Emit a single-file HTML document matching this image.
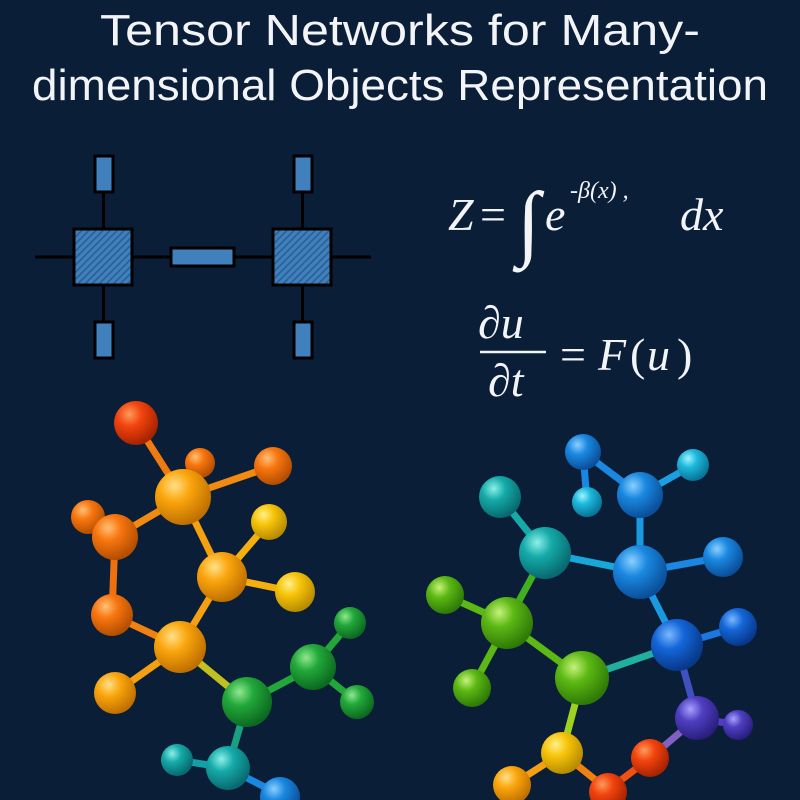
<!DOCTYPE html>
<html><head><meta charset="utf-8"><style>
html,body{margin:0;padding:0;background:#0b1e38;}
svg{display:block}
</style></head><body>
<svg width="800" height="800" viewBox="0 0 800 800" xmlns="http://www.w3.org/2000/svg">
<defs>
<pattern id="hatch" width="5" height="5" patternUnits="userSpaceOnUse" patternTransform="rotate(45)">
<rect width="5" height="5" fill="#3f80bd"/><rect width="1.6" height="5" fill="#2a5f94"/></pattern>
<radialGradient id="gRed" cx="35%" cy="30%" r="70%"><stop offset="0" stop-color="#ff9a5c"/><stop offset=".4" stop-color="#f2440e"/><stop offset="1" stop-color="#a82300"/></radialGradient>
<radialGradient id="gOr" cx="35%" cy="30%" r="70%"><stop offset="0" stop-color="#ffc078"/><stop offset=".4" stop-color="#f8760f"/><stop offset="1" stop-color="#b44e00"/></radialGradient>
<radialGradient id="gAm" cx="35%" cy="30%" r="70%"><stop offset="0" stop-color="#ffe08a"/><stop offset=".4" stop-color="#fba60d"/><stop offset="1" stop-color="#c07000"/></radialGradient>
<radialGradient id="gYe" cx="35%" cy="30%" r="70%"><stop offset="0" stop-color="#fff08a"/><stop offset=".4" stop-color="#f7c40a"/><stop offset="1" stop-color="#b88c00"/></radialGradient>
<radialGradient id="gGr" cx="35%" cy="30%" r="70%"><stop offset="0" stop-color="#8fe88f"/><stop offset=".4" stop-color="#22a83a"/><stop offset="1" stop-color="#0c6a20"/></radialGradient>
<radialGradient id="gLg" cx="35%" cy="30%" r="70%"><stop offset="0" stop-color="#c6f27a"/><stop offset=".4" stop-color="#5cb814"/><stop offset="1" stop-color="#2f7a06"/></radialGradient>
<radialGradient id="gTe" cx="35%" cy="30%" r="70%"><stop offset="0" stop-color="#8cf0e8"/><stop offset=".4" stop-color="#15aaa8"/><stop offset="1" stop-color="#086a70"/></radialGradient>
<radialGradient id="gCy" cx="35%" cy="30%" r="70%"><stop offset="0" stop-color="#a0f4ff"/><stop offset=".4" stop-color="#1cb8dc"/><stop offset="1" stop-color="#0a7498"/></radialGradient>
<radialGradient id="gBl" cx="35%" cy="30%" r="70%"><stop offset="0" stop-color="#8ad0ff"/><stop offset=".4" stop-color="#1a88e0"/><stop offset="1" stop-color="#0a4f9a"/></radialGradient>
<radialGradient id="gDb" cx="35%" cy="30%" r="70%"><stop offset="0" stop-color="#7ab8ff"/><stop offset=".4" stop-color="#1466d8"/><stop offset="1" stop-color="#08388a"/></radialGradient>
<radialGradient id="gPu" cx="35%" cy="30%" r="70%"><stop offset="0" stop-color="#a9a0ff"/><stop offset=".4" stop-color="#4f3fc0"/><stop offset="1" stop-color="#2a1f80"/></radialGradient>
</defs>
<rect width="800" height="800" fill="#0b1e38"/>
<g font-family="Liberation Sans, sans-serif" fill="#f2f4f8" font-size="44">
<text x="100" y="45" textLength="600" lengthAdjust="spacingAndGlyphs">Tensor Networks for Many-</text>
<text x="32" y="100" textLength="736" lengthAdjust="spacingAndGlyphs">dimensional Objects Representation</text>
</g>
<!-- tensor diagram -->
<g stroke="#000" stroke-width="3">
<line x1="35" y1="257" x2="371" y2="257"/>
<line x1="103.5" y1="190" x2="103.5" y2="325"/>
<line x1="302.5" y1="190" x2="302.5" y2="325"/>
<rect x="95" y="156" width="18" height="36" fill="#3f80bd"/>
<rect x="95" y="322" width="18" height="36" fill="#3f80bd"/>
<rect x="294" y="156" width="18" height="36" fill="#3f80bd"/>
<rect x="294" y="322" width="18" height="36" fill="#3f80bd"/>
<rect x="74" y="229" width="58" height="56" fill="url(#hatch)"/>
<rect x="273" y="229" width="58" height="56" fill="url(#hatch)"/>
<rect x="171" y="248" width="63" height="18" fill="#3f80bd"/>
</g>
<!-- equations -->
<g font-family="Liberation Serif, serif" fill="#f2f4f8" font-style="italic">
<text x="448" y="230" font-size="46">Z</text>
<text x="480" y="230" font-size="46" font-style="normal">=</text>
<text x="517" y="250" font-size="84" font-style="normal">∫</text>
<text x="545" y="230" font-size="46">e</text>
<text x="570" y="198" font-size="24">-β(x) ,</text>
<text x="680" y="230" font-size="46">dx</text>
<text x="478" y="338" font-size="46">∂u</text>
<line x1="480" y1="352" x2="546" y2="352" stroke="#f2f4f8" stroke-width="2.5"/>
<text x="488" y="396" font-size="46">∂t</text>
<text x="560" y="370" font-size="46" font-style="normal">=</text>
<text x="598" y="370" font-size="46">F</text>
<text x="630" y="370" font-size="46" font-style="normal">(</text>
<text x="647" y="370" font-size="46">u</text>
<text x="677" y="370" font-size="46" font-style="normal">)</text>
</g>
<!-- left molecule bonds -->
<g stroke-width="7" stroke-linecap="round">
<line x1="136" y1="423" x2="183" y2="497" stroke="#f07a10"/>
<line x1="200" y1="463" x2="183" y2="497" stroke="#f08a10"/>
<line x1="273" y1="466" x2="183" y2="497" stroke="#f08a10"/>
<line x1="183" y1="497" x2="115" y2="537" stroke="#f08a10"/>
<line x1="88" y1="517" x2="115" y2="537" stroke="#f07010"/>
<line x1="183" y1="497" x2="222" y2="577" stroke="#f5a010"/>
<line x1="115" y1="537" x2="112" y2="615" stroke="#f07010"/>
<line x1="222" y1="577" x2="269" y2="522" stroke="#f5b010"/>
<line x1="222" y1="577" x2="295" y2="592" stroke="#f5b010"/>
<line x1="222" y1="577" x2="180" y2="647" stroke="#f5a010"/>
<line x1="112" y1="615" x2="180" y2="647" stroke="#f08010"/>
<line x1="180" y1="647" x2="115" y2="693" stroke="#f5a010"/>
<line x1="180" y1="647" x2="247" y2="702" stroke="#c0c020"/>
<line x1="247" y1="702" x2="313" y2="667" stroke="#22a83a"/>
<line x1="313" y1="667" x2="350" y2="623" stroke="#22a83a"/>
<line x1="313" y1="667" x2="357" y2="702" stroke="#22a83a"/>
<line x1="247" y1="702" x2="228" y2="768" stroke="#1aa080"/>
<line x1="177" y1="760" x2="228" y2="768" stroke="#15a0a8"/>
<line x1="228" y1="768" x2="280" y2="795" stroke="#1a88e0"/>
</g>
<g>
<circle cx="136" cy="423" r="22" fill="url(#gRed)"/>
<circle cx="200" cy="463" r="15" fill="url(#gOr)"/>
<circle cx="273" cy="466" r="19" fill="url(#gOr)"/>
<circle cx="183" cy="497" r="28" fill="url(#gAm)"/>
<circle cx="88" cy="517" r="17" fill="url(#gOr)"/>
<circle cx="115" cy="537" r="23" fill="url(#gOr)"/>
<circle cx="269" cy="522" r="18" fill="url(#gYe)"/>
<circle cx="222" cy="577" r="25" fill="url(#gAm)"/>
<circle cx="295" cy="592" r="20" fill="url(#gYe)"/>
<circle cx="112" cy="615" r="21" fill="url(#gOr)"/>
<circle cx="180" cy="647" r="26" fill="url(#gAm)"/>
<circle cx="115" cy="693" r="21" fill="url(#gAm)"/>
<circle cx="247" cy="702" r="25" fill="url(#gGr)"/>
<circle cx="313" cy="667" r="23" fill="url(#gGr)"/>
<circle cx="350" cy="623" r="16" fill="url(#gGr)"/>
<circle cx="357" cy="702" r="17" fill="url(#gGr)"/>
<circle cx="177" cy="760" r="16" fill="url(#gTe)"/>
<circle cx="228" cy="768" r="22" fill="url(#gTe)"/>
<circle cx="280" cy="797" r="20" fill="url(#gBl)"/>
</g>
<!-- right molecule bonds -->
<g stroke-width="7" stroke-linecap="round">
<line x1="583" y1="452" x2="587" y2="502" stroke="#1a88e0"/>
<line x1="583" y1="452" x2="640" y2="495" stroke="#1a88e0"/>
<line x1="693" y1="465" x2="640" y2="495" stroke="#1aa0e0"/>
<line x1="640" y1="495" x2="640" y2="572" stroke="#1a98e0"/>
<line x1="500" y1="497" x2="545" y2="553" stroke="#15aaa8"/>
<line x1="545" y1="553" x2="640" y2="572" stroke="#18a8d8"/>
<line x1="640" y1="572" x2="723" y2="557" stroke="#1a88e0"/>
<line x1="545" y1="553" x2="507" y2="623" stroke="#40b020"/>
<line x1="445" y1="595" x2="507" y2="623" stroke="#5cb814"/>
<line x1="507" y1="623" x2="472" y2="688" stroke="#5cb814"/>
<line x1="507" y1="623" x2="582" y2="678" stroke="#5cb814"/>
<line x1="640" y1="572" x2="677" y2="645" stroke="#1a98e0"/>
<line x1="677" y1="645" x2="738" y2="627" stroke="#1a78e0"/>
<line x1="582" y1="678" x2="677" y2="645" stroke="#20b0a0"/>
<line x1="677" y1="645" x2="697" y2="718" stroke="#4050c0"/>
<line x1="697" y1="718" x2="738" y2="725" stroke="#4f3fc0"/>
<line x1="697" y1="718" x2="650" y2="758" stroke="#8060c0"/>
<line x1="582" y1="678" x2="562" y2="753" stroke="#a0d020"/>
<line x1="562" y1="753" x2="512" y2="785" stroke="#f5a010"/>
<line x1="562" y1="753" x2="608" y2="790" stroke="#f08010"/>
<line x1="608" y1="790" x2="650" y2="758" stroke="#f05010"/>
</g>
<g>
<circle cx="583" cy="452" r="18" fill="url(#gBl)"/>
<circle cx="587" cy="502" r="15" fill="url(#gCy)"/>
<circle cx="693" cy="465" r="16" fill="url(#gCy)"/>
<circle cx="640" cy="495" r="23" fill="url(#gBl)"/>
<circle cx="500" cy="497" r="21" fill="url(#gTe)"/>
<circle cx="545" cy="553" r="26" fill="url(#gTe)"/>
<circle cx="640" cy="572" r="27" fill="url(#gBl)"/>
<circle cx="723" cy="557" r="20" fill="url(#gBl)"/>
<circle cx="445" cy="595" r="19" fill="url(#gLg)"/>
<circle cx="507" cy="623" r="26" fill="url(#gLg)"/>
<circle cx="677" cy="645" r="26" fill="url(#gDb)"/>
<circle cx="738" cy="627" r="19" fill="url(#gDb)"/>
<circle cx="582" cy="678" r="27" fill="url(#gLg)"/>
<circle cx="472" cy="688" r="19" fill="url(#gLg)"/>
<circle cx="697" cy="718" r="22" fill="url(#gPu)"/>
<circle cx="738" cy="725" r="15" fill="url(#gPu)"/>
<circle cx="562" cy="753" r="21" fill="url(#gYe)"/>
<circle cx="650" cy="758" r="19" fill="url(#gRed)"/>
<circle cx="512" cy="785" r="19" fill="url(#gAm)"/>
<circle cx="608" cy="792" r="19" fill="url(#gRed)"/>
</g>
</svg>
</body></html>
